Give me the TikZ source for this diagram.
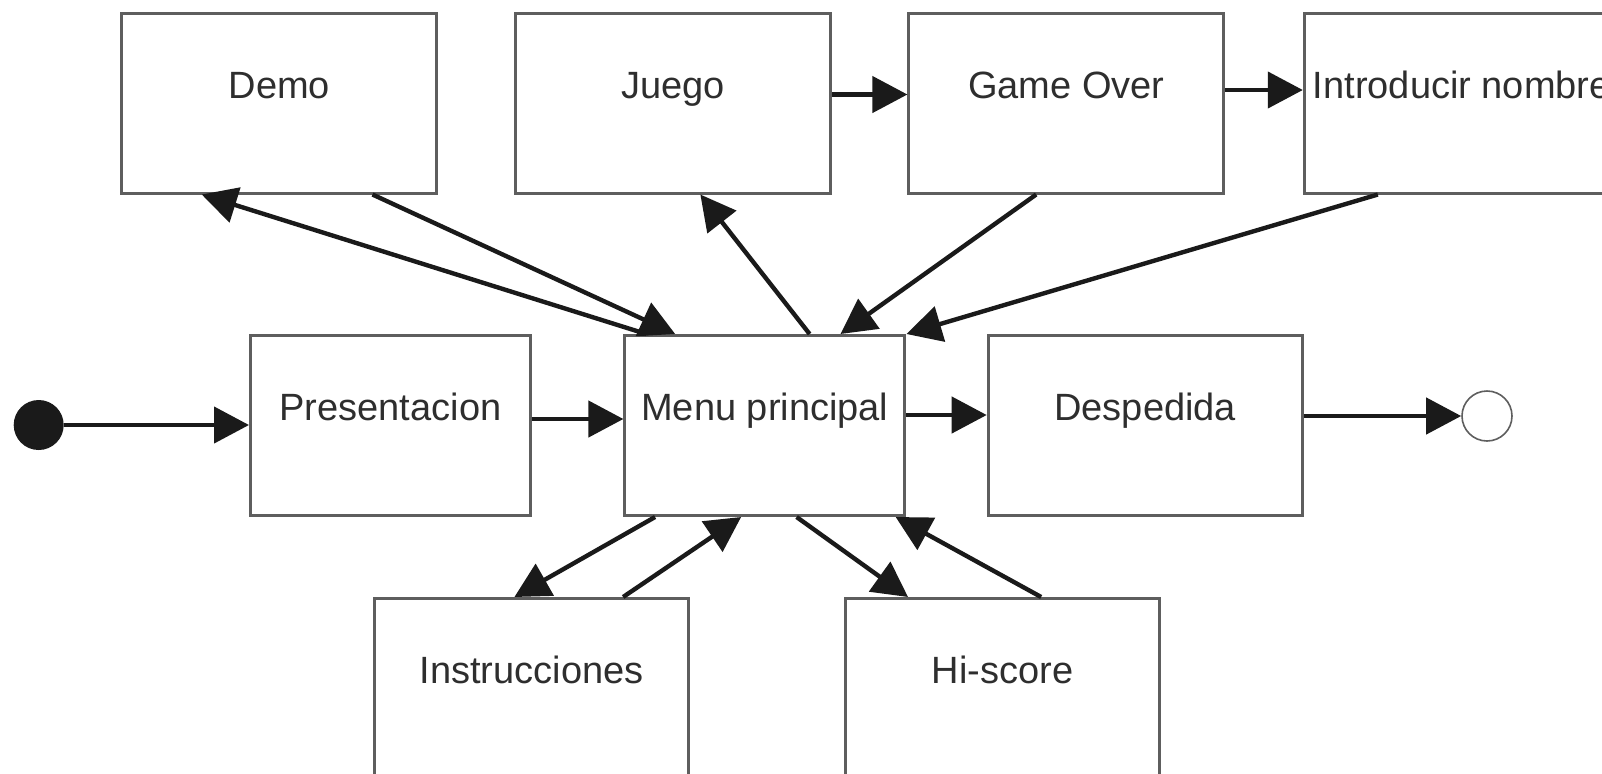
\documentclass[tikz,border=0pt]{standalone}
\usepackage{fontspec}
\setmainfont{Liberation Sans}
\usetikzlibrary{arrows.meta,calc}
\definecolor{boxgray}{HTML}{5E5E5E}
\definecolor{txtgray}{HTML}{2E2E2E}
\definecolor{inkblack}{HTML}{1A1A1A}
\begin{document}
\begin{tikzpicture}[x=0.5pt,y=-0.5pt,
  stbox/.style={draw=boxgray, line width=1.5pt, rectangle, inner sep=0pt,
    anchor=north west, minimum width=#1, text height=42.5pt, text depth=47.5pt,
    font=\fontsize{19}{22}\selectfont, text=txtgray},
  arr/.style={draw=inkblack, line width=2.2pt, -{Triangle[length=17.5pt,width=18pt]}}]
\useasboundingbox (0,0) rectangle (1602,773);
\clip (0,0) rectangle (1602,773);
% top row
\node[stbox=157.5pt] (demo)  at (120.3,11.5) {Demo};
\node[stbox=157.5pt] (juego) at (514,11.5) {Juego};
\node[stbox=157.5pt] (gover) at (907.4,11.5) {Game Over};
\node[stbox=157.5pt] (intro) at (1302.8,11.5) {Introducir nombre};
% middle row
\node[stbox=140pt] (pres) at (249,334) {Presentacion};
\node[stbox=140pt] (menu) at (623.4,334) {Menu principal};
\node[stbox=157pt] (desp) at (986.7,334) {Despedida};
% bottom row
\node[stbox=157pt] (instr) at (373,597) {Instrucciones};
\node[stbox=157pt] (hisc)  at (844,597) {Hi-score};
% initial and final states
\node[circle, fill=inkblack, minimum size=25pt, inner sep=0pt] (ini) at (38.7,425) {};
\node[circle, draw=boxgray, line width=0.8pt, fill=white, minimum size=25pt, inner sep=0pt] (fin) at (1487,416) {};
% horizontal connectors
\draw[arr] (ini.east) -- (ini.east -| pres.west);
\draw[arr] ($(pres.north east)+(0,85)$) coordinate (a2) -- (a2 -| menu.west);
\draw[arr] ($(menu.north east)+(0,81)$) coordinate (a3) -- (a3 -| desp.west);
\draw[arr] (fin.west -| desp.east) -- (fin.west);
\draw[arr] ($(juego.north east)+(0,83)$) coordinate (a10) -- (a10 -| gover.west);
\draw[arr] ($(gover.north east)+(0,78.5)$) coordinate (a11) -- (a11 -| intro.west);
% top diagonals
\draw[arr] ($(menu.north west)!0.081!(menu.north east)$) -- ($(demo.south west)!0.256!(demo.south east)$);
\draw[arr] ($(demo.south west)!0.793!(demo.south east)$) -- ($(menu.north west)!0.183!(menu.north east)$);
\draw[arr] ($(menu.north west)!0.658!(menu.north east)$) -- ($(juego.south west)!0.586!(juego.south east)$);
\draw[arr] ($(gover.south west)!0.405!(gover.south east)$) -- ($(menu.north west)!0.767!(menu.north east)$);
\draw[arr] ($(intro.south west)!0.236!(intro.south east)$) -- (menu.north east);
% bottom diagonals
\draw[arr] ($(menu.south west)!0.112!(menu.south east)$) -- ($(instr.north west)!0.446!(instr.north east)$);
\draw[arr] ($(instr.north west)!0.789!(instr.north east)$) -- ($(menu.south west)!0.416!(menu.south east)$);
\draw[arr] ($(menu.south west)!0.612!(menu.south east)$) -- ($(hisc.north west)!0.202!(hisc.north east)$);
\draw[arr] ($(hisc.north west)!0.622!(hisc.north east)$) -- ($(menu.south west)!0.962!(menu.south east)$);
\end{tikzpicture}
\end{document}
